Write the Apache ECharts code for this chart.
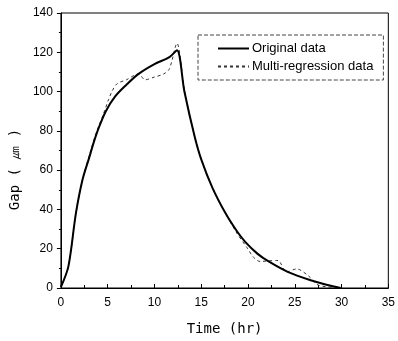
<!DOCTYPE html>
<html>
<head>
<meta charset="utf-8">
<script src="https://cdn.jsdelivr.net/npm/echarts@6/dist/echarts.min.js"></script>
<style>
html,body{margin:0;padding:0;background:#fff;}
#chart{width:398px;height:341px;}
</style>
</head>
<body>
<div id="chart"></div>
<script>
var seriesNames = ["Original data", "Multi-regression data"];
var timeOriginal = [0, 0.8, 1.6, 2.3, 3.0, 3.5, 4.0, 4.8, 5.8, 6.9, 8.3, 10.0, 11.6, 12.4, 13.2, 14.3, 15.0, 16.2, 17.6, 18.8, 19.7, 21.0, 22.2, 24.3, 26.8, 28.5, 29.9];
var gapOriginal  = [0.5, 11, 38, 55, 66, 74, 81, 90, 97.5, 103, 109, 114, 117.5, 121, 100, 77, 65.5, 51, 38, 29, 23.5, 17.5, 13.5, 8.1, 3.8, 1.5, 0];
var timeRegression = [0, 0.8, 1.6, 2.3, 3.0, 3.7, 4.5, 5.1, 5.5, 6.0, 7.0, 8.3, 9.0, 10.0, 11.0, 11.6, 12.4, 13.2, 14.3, 15.0, 16.2, 17.6, 18.8, 19.9, 20.6, 21.3, 22.2, 23.2, 24.1, 25.2, 26.5, 27.5, 29.9];
var gapRegression  = [0.5, 11, 38, 55, 67, 78, 88, 96, 100.5, 104, 106, 109, 106, 107.4, 109, 111.6, 124.5, 101, 77, 65.5, 51, 38, 28, 20.5, 15.6, 13.5, 13.8, 14, 8.2, 9.7, 6, 1.5, 0];
var xAxisName = "Time (hr)";
var yAxisName = "Gap ( \u339B )";

function pairs(xs, ys){ return xs.map(function(x,i){ return [x, ys[i]]; }); }

var chart = echarts.init(document.getElementById('chart'), null, {renderer:'canvas'});
chart.setOption({
  animation:false,
  backgroundColor:'#fff',
  grid:{left:60, right:7, top:13, bottom:52, show:true, borderColor:'#000', borderWidth:1, backgroundColor:'transparent'},
  legend:{
    orient:'vertical', left:198, top:35,
    padding:[7,10,7,19], itemGap:5, itemWidth:31, itemHeight:12,
    borderColor:'#444', borderWidth:1, borderType:'dashed',
    itemStyle:{color:'transparent', borderColor:'transparent', borderWidth:0},
    textStyle:{fontFamily:'Liberation Sans', fontSize:13, color:'#000', padding:[0,0,0,-2]},
    data: seriesNames
  },
  xAxis:{
    type:'value', min:0, max:35, interval:5,
    name:xAxisName, nameLocation:'middle', nameGap:34,
    nameTextStyle:{fontFamily:'DejaVu Sans Mono', fontSize:14, color:'#000'},
    axisLine:{lineStyle:{color:'#000', width:1}},
    axisTick:{inside:true, length:4, lineStyle:{color:'#000'}},
    minorTick:{show:true, splitNumber:2, length:3, lineStyle:{color:'#000'}},
    axisLabel:{fontFamily:'Liberation Sans', fontSize:12, color:'#000', margin:9},
    splitLine:{show:false}
  },
  yAxis:{
    type:'value', min:0, max:140, interval:20,
    name:yAxisName, nameLocation:'middle', nameGap:38, nameRotate:90,
    nameTextStyle:{fontFamily:'DejaVu Sans Mono', fontSize:14, color:'#000', padding:[0,38,0,0]},
    axisLine:{show:true, lineStyle:{color:'#000', width:1}},
    axisTick:{show:true, inside:false, length:4, lineStyle:{color:'#000'}},
    minorTick:{show:true, splitNumber:2, length:2, lineStyle:{color:'#000'}},
    axisLabel:{fontFamily:'Liberation Sans', fontSize:12, color:'#000', margin:8},
    splitLine:{show:false}
  },
  series:[
    {name:seriesNames[0], type:'line', data:pairs(timeOriginal, gapOriginal), showSymbol:false, symbol:'none',
     smooth:0.3, lineStyle:{color:'#000', width:2}, itemStyle:{color:'#000'}, z:3},
    {name:seriesNames[1], type:'line', data:pairs(timeRegression, gapRegression), showSymbol:false, symbol:'none',
     smooth:0.3, lineStyle:{color:'#333', width:1, type:[3,3]}, itemStyle:{color:'#333'}, z:2}
  ]
});
</script>
</body>
</html>
